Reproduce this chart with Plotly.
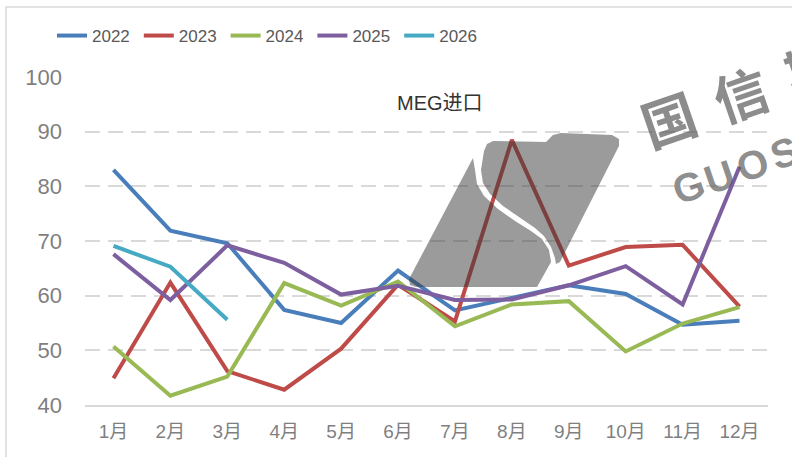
import plotly.graph_objects as go

months = ["1月", "2月", "3月", "4月", "5月", "6月", "7月", "8月", "9月", "10月", "11月", "12月"]
y2022 = [83.0, 71.9, 69.6, 57.4, 55.0, 64.6, 57.3, 59.6, 61.9, 60.3, 54.7, 55.4]
y2023 = [44.9, 62.4, 46.2, 42.8, 50.3, 62.0, 55.3, 88.5, 65.5, 68.9, 69.3, 58.0]
y2024 = [50.7, 41.7, 45.2, 62.3, 58.2, 62.6, 54.4, 58.4, 59.0, 49.8, 54.9, 57.9]
y2025 = [67.6, 59.2, 69.2, 66.0, 60.2, 61.8, 59.2, 59.3, 61.9, 65.4, 58.4, 83.6]
y2026 = [69.1, 65.3, 55.6]

series = [
    ("2022", y2022, "#4A7EBB"),
    ("2023", y2023, "#BE4B48"),
    ("2024", y2024, "#98B954"),
    ("2025", y2025, "#7D5FA0"),
    ("2026", y2026, "#46AAC5"),
]

W, H = 792, 457
L, R, T, B = 85, 24, 77, 52
PW, PH = W - L - R, H - T - B


def px(x):
    return (x - L) / PW


def py(y):
    return (H - B - y) / PH


def path(points, close=True):
    s = "M {:.4f},{:.4f}".format(px(points[0][0]), py(points[0][1]))
    for (x, y) in points[1:]:
        s += " L {:.4f},{:.4f}".format(px(x), py(y))
    return s + (" Z" if close else "")


fig = go.Figure()
for name, vals, col in series:
    fig.add_trace(go.Scatter(
        x=months[:len(vals)], y=vals, name=name, mode="lines",
        line=dict(color=col, width=4),
    ))

# logo pieces (decoration)
right_piece = [(484, 151), (487, 144), (493, 141), (546, 142), (553, 135), (561, 133),
               (612, 135), (619, 139), (619, 146), (560, 262), (556, 264),
               (555, 258), (551, 247), (544, 236), (535, 228), (519, 217), (503, 206),
               (490, 194), (483, 183), (481, 170)]
left_piece = [(473, 158), (409, 279), (410, 285), (416, 287), (537, 287),
              (551, 262), (549, 250), (542, 239), (531, 231), (515, 221), (498, 209),
              (484, 196), (477, 184), (475, 170)]
shapes = []
for pts in (right_piece, left_piece):
    shapes.append(dict(type="path", xref="paper", yref="paper", path=path(pts),
                       fillcolor="rgba(55,55,55,0.5)", line=dict(width=0),
                       layer="above"))
# outer frame
shapes.append(dict(type="rect", xref="paper", yref="paper",
                   x0=px(6), y0=py(7), x1=px(900), y1=py(520),
                   line=dict(color="#D9D9D9", width=1.5), layer="below"))

annotations = [
    dict(text="MEG进口", x=px(440), y=py(103), xref="paper", yref="paper",
         showarrow=False, xanchor="center", yanchor="middle",
         font=dict(family="Liberation Sans, Noto Sans CJK SC", size=20, color="#333333")),
]
wm_color = "rgba(85,85,85,0.68)"
for ch, (cx, cy) in zip("国信期", [(668, 117), (740, 92), (812, 67)]):
    annotations.append(dict(text=ch, x=px(cx), y=py(cy), xref="paper", yref="paper",
                            showarrow=False, xanchor="center", yanchor="middle",
                            textangle=-19,
                            font=dict(family="Noto Sans CJK SC", size=54, color=wm_color, weight=700)))
for ch, (cx, cy) in zip("GUOS", [(688, 187), (719, 177), (752, 165), (784, 153)]):
    annotations.append(dict(text=ch, x=px(cx), y=py(cy), xref="paper", yref="paper",
                            showarrow=False, xanchor="center", yanchor="middle",
                            textangle=-19,
                            font=dict(family="Liberation Sans", size=40, color=wm_color, weight=700)))

fig.update_layout(
    width=W, height=H,
    margin=dict(l=L, r=R, t=T, b=B, pad=0),
    paper_bgcolor="white", plot_bgcolor="white",
    showlegend=True,
    legend=dict(orientation="h", x=px(52), y=py(36), xanchor="left", yanchor="middle",
                font=dict(family="Liberation Sans", size=17, color="#595959"),
                entrywidth=41.8, entrywidthmode="pixels", itemwidth=30,
                bgcolor="rgba(0,0,0,0)"),
    xaxis=dict(type="category", categoryorder="array", categoryarray=months,
               range=[-0.5, 11.5], showgrid=False, showline=True,
               linecolor="#D9D9D9", linewidth=1.5, ticks="", zeroline=False,
               tickfont=dict(family="Liberation Sans, Noto Sans CJK SC", size=19, color="#7F7F7F"),
               ticklabelstandoff=8),
    yaxis=dict(range=[40, 100], dtick=10, tick0=40, showgrid=True,
               gridcolor="#D9D9D9", gridwidth=1.5, griddash="15px,8px",
               showline=False, zeroline=False, ticks="",
               tickfont=dict(family="Liberation Sans", size=22, color="#7F7F7F"),
               ticklabelstandoff=22),
    shapes=shapes,
    annotations=annotations,
)

fig.write_html("out.html", config={"displayModeBar": False},
               post_script="document.body.style.margin='0';document.body.style.overflow='hidden';")
